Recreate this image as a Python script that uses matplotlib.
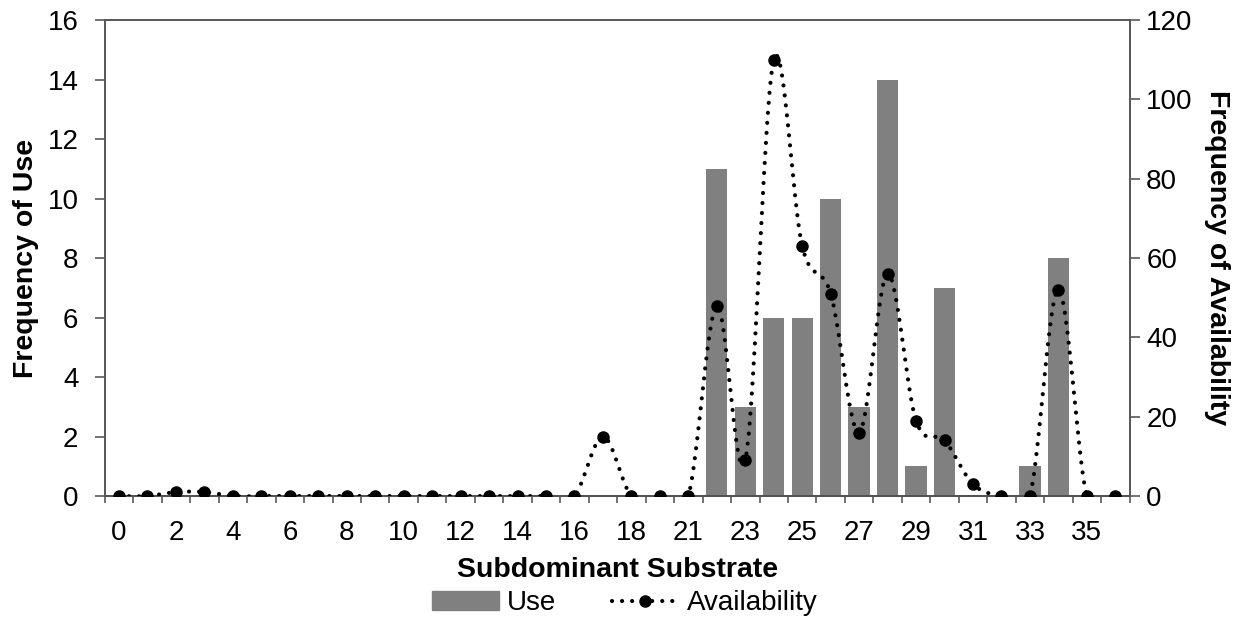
import numpy as np
import matplotlib.pyplot as plt
from matplotlib.patches import Patch
from matplotlib.lines import Line2D

plt.rcParams['font.family'] = ['Liberation Sans', 'DejaVu Sans']

# ─── Dados ───────────────────────────────────────────────────────────────────
substrato = [0, 1, 2, 3, 4, 5, 6, 7, 8, 9, 10, 11, 12, 13, 14, 15, 16, 17, 18, 19,
             21, 22, 23, 24, 25, 26, 27, 28, 29, 30, 31, 32, 33, 34, 35, 36]
uso = [0, 0, 0, 0, 0, 0, 0, 0, 0, 0, 0, 0, 0, 0, 0, 0, 0, 0, 0, 0,
       0, 11, 3, 6, 6, 10, 3, 14, 1, 7, 0, 0, 1, 8, 0, 0]
disponibilidade = [0, 0, 1, 1, 0, 0, 0, 0, 0, 0, 0, 0, 0, 0, 0, 0, 0, 15, 0, 0,
                   0, 48, 9, 110, 63, 51, 16, 56, 19, 14, 3, 0, 0, 52, 0, 0]

cor_barra = '#808080'
cor_eixo = '#595959'
estilo_pontilhado = (0, (0.01, 2.4))
fs = 20


def suavizar(x, y, n=20):
    """Curva suavizada estilo Excel (Catmull-Rom) só para o desenho da linha."""
    x = np.asarray(x, float)
    y = np.asarray(y, float)
    px = np.concatenate([[x[0]], x, [x[-1]]])
    py = np.concatenate([[y[0]], y, [y[-1]]])
    t = np.linspace(0, 1, n, endpoint=False)
    xs, ys = [], []
    for i in range(1, len(px) - 2):
        for arr, out in ((px, xs), (py, ys)):
            p0, p1, p2, p3 = arr[i - 1], arr[i], arr[i + 1], arr[i + 2]
            out.extend(0.5 * ((2 * p1) + (-p0 + p2) * t
                              + (2 * p0 - 5 * p1 + 4 * p2 - p3) * t ** 2
                              + (-p0 + 3 * p1 - 3 * p2 + p3) * t ** 3))
    xs.append(x[-1])
    ys.append(y[-1])
    return np.array(xs), np.array(ys)


pos = np.arange(len(substrato))

fig = plt.figure(figsize=(12.52, 6.18), dpi=100)
ax = fig.add_axes([0.0837, 0.1974, 0.8185, 0.7702])
ax2 = ax.twinx()

ax.bar(pos, uso, width=0.75, color=cor_barra, zorder=2)
ax.set_ylim(0, 16)
ax.set_yticks(range(0, 17, 2))
ax.set_xlim(-0.5, len(substrato) - 0.5)

xs, ys = suavizar(pos, disponibilidade)
ax2.plot(xs, ys, color='black', lw=3.0, linestyle=estilo_pontilhado,
         dash_capstyle='round', zorder=3)
ax2.plot(pos, disponibilidade, 'o', color='black', ms=8, zorder=4)
ax2.set_ylim(0, 120)
ax2.set_yticks(range(0, 121, 20))
ax2.set_xlim(-0.5, len(substrato) - 0.5)

# ticks: marcas entre categorias, rótulos a cada duas
ax.set_xticks(pos[::2])
ax.set_xticklabels([str(s) for s in substrato[::2]])
ax.set_xticks(np.arange(-0.5, len(substrato), 1), minor=True)
ax.tick_params(axis='x', which='major', length=0, pad=17, labelsize=fs)
ax.tick_params(axis='x', which='minor', length=5, width=1.2, color=cor_eixo)
ax.tick_params(axis='y', length=7, width=1.2, color=cor_eixo, labelsize=fs, pad=12)
ax2.tick_params(axis='y', length=7, width=1.2, color=cor_eixo, labelsize=fs, pad=5)

for a in (ax, ax2):
    for s in a.spines.values():
        s.set_color(cor_eixo)
        s.set_linewidth(1.3)
ax.spines['bottom'].set_color('black')

ax.set_xlabel('Subdominant Substrate', fontsize=20.5, fontweight='bold', labelpad=8)
ax.set_ylabel('Frequency of Use', fontsize=20.5, fontweight='bold', labelpad=6)
ax2.set_ylabel('Frequency of Availability', fontsize=20.5, fontweight='bold',
               rotation=270, labelpad=27)

handles = [Patch(color=cor_barra),
           Line2D([0], [0], color='black', lw=3.0, linestyle=estilo_pontilhado,
                  dash_capstyle='round', marker='o', ms=8)]
fig.legend(handles, ['Use', 'Availability'], loc='lower center',
           bbox_to_anchor=(0.499, -0.038), ncol=2, frameon=False, fontsize=fs,
           handlelength=2.4, handletextpad=0.3, columnspacing=2.0)

plt.savefig('out.png', dpi=100)
